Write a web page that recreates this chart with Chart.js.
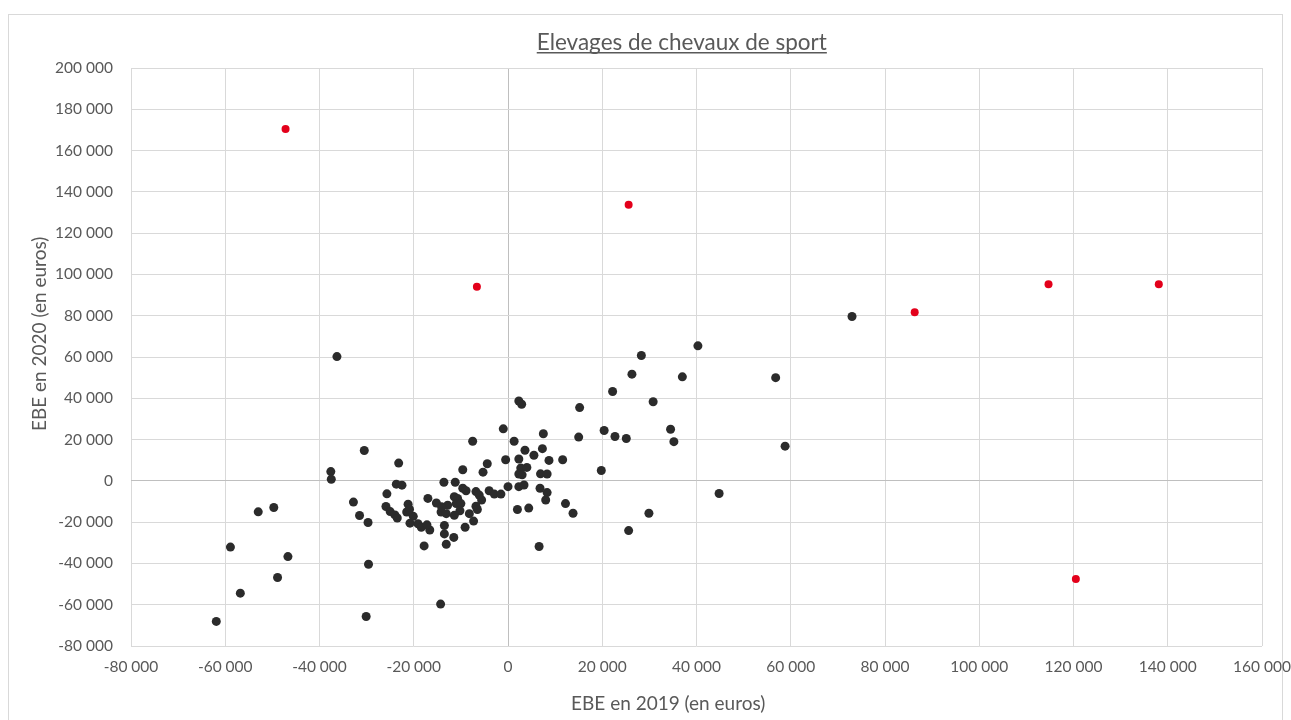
<!DOCTYPE html>
<html>
<head>
<meta charset="utf-8">
<script src="https://cdn.jsdelivr.net/npm/chart.js@4.4.1/dist/chart.umd.min.js"></script>
<style>
  html, body { margin: 0; padding: 0; background: #ffffff; width: 1291px; height: 720px; overflow: hidden; }
  #frame { position: absolute; left: 8px; top: 14px; width: 1275px; height: 720px; border: 1px solid #d9d9d9; box-sizing: border-box; }
  #c { position: absolute; left: 0; top: 0; }
</style>
</head>
<body>
<div id="frame"></div>
<canvas id="c" width="1291" height="720"></canvas>
<script>
const chartTitle = 'Elevages de chevaux de sport';
const xAxisTitle = 'EBE en 2019 (en euros)';
const yAxisTitle = 'EBE en 2020 (en euros)';

const xTickLabels = ['-80 000','-60 000','-40 000','-20 000','0','20 000','40 000','60 000','80 000','100 000','120 000','140 000','160 000'];
const yTickLabels = ['-80 000','-60 000','-40 000','-20 000','0','20 000','40 000','60 000','80 000','100 000','120 000','140 000','160 000','180 000','200 000'];

// Exploitations (EBE 2019, EBE 2020) in euros
const ebe2019 = [
  -36300,-30500,-23200,-37600,-37500,-23700,-22500,-25700,-32800,-49700,
  -53000,-31500,-29700,-25900,-25000,-24000,-23500,-58900,-46700,-29600,
  -48900,-56800,-61900,-30100,-14300,-21200,-21500,-20100,-20800,-19100,
  -18400,-16600,-17000,-15200,-13600,-11200,-9600,-8900,-11400,-10700,
  -11000,-10000,-12800,-14200,-13100,-10200,-11400,-6800,-6500,-8200,
  -7300,-9100,-13500,-13500,-11500,-13100,-17800,-6800,-6100,-5600,
  -4000,-2900,-1500,0,2300,3400,2000,4400,-9600,-5300,
  -4400,2300,2900,15200,-1000,-7500,1300,7500,15000,3600,
  7300,5500,8700,11600,-500,2300,2700,4000,2300,3000,
  6900,8300,6800,8300,8000,12200,6600,28300,40300,26300,
  37000,56800,22200,30800,20400,22700,25100,34500,35200,58800,
  19800,44800,13800,29900,25600,73000,-20900,-17200,-14100
];
const ebe2020 = [
  60200,14700,8600,4500,800,-1600,-2100,-6300,-10300,-12900,
  -15000,-16800,-20200,-12400,-14900,-16500,-18000,-32100,-36700,-40400,
  -46800,-54400,-68100,-65700,-59700,-11300,-15100,-17200,-20500,-20800,
  -22500,-23800,-8500,-10700,-700,-700,-3600,-4800,-7700,-8500,
  -11000,-11000,-11800,-15100,-15900,-14500,-16700,-12300,-13900,-15900,
  -19500,-22500,-21600,-25700,-27400,-30700,-31500,-5200,-6900,-9300,
  -4800,-6400,-6400,-2800,-2800,-2000,-13900,-13200,5400,4200,
  8300,38700,37100,35500,25200,19200,19200,22800,21200,14800,
  15600,12400,9900,10200,10200,10600,6200,6500,3300,2900,
  3400,3300,-3600,-5700,-9300,-11000,-31800,60700,65400,51700,
  50400,50000,43300,38300,24400,21500,20500,25000,19000,16800,
  5000,-6100,-15700,-15700,-24100,79600,-13700,-21300,-12600
];
// Outliers highlighted in red
const ebe2019Red = [-47200, 25600, -6600, 86300, 114700, 138100, 120500];
const ebe2020Red = [170500, 133700, 94000, 81700, 95300, 95300, -47600];

const textColor = '#595959';
const gridColor = '#d9d9d9';
const zeroColor = '#bfbfbf';

function toPoints(xs, ys) { return xs.map((x, i) => ({ x: x, y: ys[i] })); }

const titlesPlugin = {
  id: 'excelTitles',
  afterDraw(chart) {
    const ctx = chart.ctx;
    const a = chart.chartArea;
    ctx.save();
    ctx.fillStyle = textColor;
    ctx.textAlign = 'center';
    ctx.textBaseline = 'middle';
    // chart title, underlined
    ctx.font = '22.5px Lato';
    const tx = a.left + (a.right - a.left) * 0.487;
    const ty = a.top - 25;
    ctx.fillText(chartTitle, tx, ty);
    const tw = ctx.measureText(chartTitle).width;
    ctx.fillRect(tx - tw / 2, ty + 9, tw, 1.5);
    // x axis title
    ctx.font = '19px Lato';
    ctx.fillText(xAxisTitle, a.left + (a.right - a.left) * 0.475, a.bottom + 58);
    // y axis title
    ctx.translate(40, a.top + (a.bottom - a.top) * 0.46);
    ctx.rotate(-Math.PI / 2);
    ctx.fillText(yAxisTitle, 0, 0);
    ctx.restore();
  }
};

function draw() {
  Chart.defaults.font.family = 'Lato';
  Chart.defaults.color = textColor;
  new Chart(document.getElementById('c'), {
    type: 'scatter',
    data: {
      datasets: [
        {
          label: 'Exploitations',
          data: toPoints(ebe2019, ebe2020),
          backgroundColor: '#2b2b2b',
          borderColor: '#2b2b2b',
          pointRadius: 4.5,
          pointHoverRadius: 4.5,
          borderWidth: 0
        },
        {
          label: 'Atypiques',
          data: toPoints(ebe2019Red, ebe2020Red),
          backgroundColor: '#e3001b',
          borderColor: '#e3001b',
          pointRadius: 4,
          pointHoverRadius: 4,
          borderWidth: 0
        }
      ]
    },
    options: {
      responsive: false,
      animation: false,
      devicePixelRatio: 1,
      layout: { padding: { left: 0, top: 68, right: 29, bottom: 0 } },
      plugins: {
        legend: { display: false },
        title: { display: false },
        tooltip: { enabled: false }
      },
      scales: {
        x: {
          type: 'linear',
          min: -80000,
          max: 160000,
          afterFit(scale) { scale.height = 74; scale.paddingLeft = 0; scale.paddingRight = 0; },
          ticks: {
            stepSize: 20000,
            padding: 12,
            maxRotation: 0,
            autoSkip: false,
            font: { size: 15.5 },
            color: textColor,
            callback: (v, i) => xTickLabels[i]
          },
          grid: {
            drawTicks: false,
            color: ctx => (ctx.tick && ctx.tick.value === 0) ? zeroColor : gridColor
          },
          border: { display: false }
        },
        y: {
          type: 'linear',
          min: -80000,
          max: 200000,
          afterFit(scale) { scale.width = 131; scale.paddingTop = 0; scale.paddingBottom = 0; },
          ticks: {
            stepSize: 20000,
            padding: 18,
            autoSkip: false,
            font: { size: 15.5 },
            color: textColor,
            callback: (v, i) => yTickLabels[i]
          },
          grid: {
            drawTicks: false,
            color: ctx => (ctx.tick && ctx.tick.value === 0) ? zeroColor : gridColor
          },
          border: { display: false }
        }
      }
    },
    plugins: [titlesPlugin]
  });
}

let started = false;
function start() { if (!started) { started = true; draw(); } }
if (document.fonts && document.fonts.load) {
  Promise.all([document.fonts.load('16px Lato'), document.fonts.load('23px Lato')]).then(start, start);
  setTimeout(start, 800);
} else {
  start();
}
</script>
</body>
</html>
